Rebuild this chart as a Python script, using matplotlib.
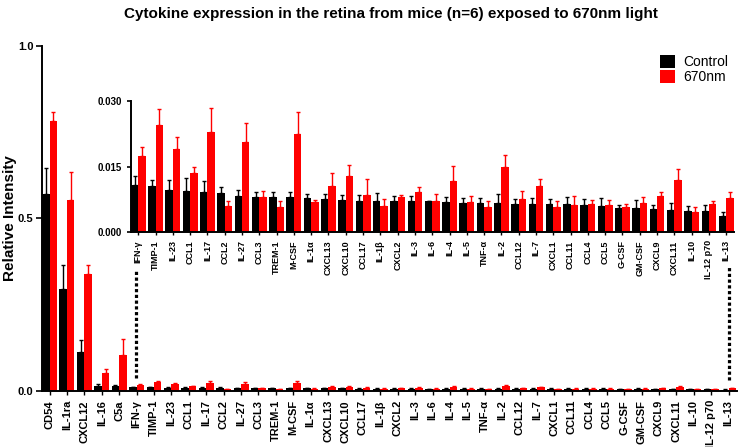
import numpy as np
import matplotlib
matplotlib.use("Agg")
import matplotlib.pyplot as plt

plt.rcParams["font.family"] = ["Liberation Sans", "DejaVu Sans"]

# big cytokines (main axis only)
big_labels = ["CD54", "IL-1ra", "CXCL12", "IL-16", "C5a"]
big_ctrl = [0.570, 0.295, 0.112, 0.015, 0.014]
big_ctrl_err = [0.075, 0.069, 0.036, 0.004, 0.002]
big_670 = [0.782, 0.552, 0.340, 0.051, 0.103]
big_670_err = [0.027, 0.082, 0.025, 0.013, 0.047]

# small cytokines (shown in inset too), values x1e-3
small_labels = ["IFN-γ", "TIMP-1", "IL-23", "CCL1", "IL-17", "CCL2", "IL-27", "CCL3",
                "TREM-1", "M-CSF", "IL-1α", "CXCL13", "CXCL10", "CCL17", "IL-1β",
                "CXCL2", "IL-3", "IL-6", "IL-4", "IL-5", "TNF-α", "IL-2", "CCL12",
                "IL-7", "CXCL1", "CCL11", "CCL4", "CCL5", "G-CSF", "GM-CSF", "CXCL9",
                "CXCL11", "IL-10", "IL-12 p70", "IL-13"]
small_ctrl = [10.7, 10.6, 9.7, 9.4, 9.1, 9.0, 8.3, 8.1, 8.0, 8.0, 7.7, 7.6, 7.3, 7.1, 7.1,
              7.0, 7.0, 7.1, 6.9, 6.7, 6.7, 6.6, 6.4, 6.4, 6.4, 6.3, 6.2, 6.0, 5.6, 5.4,
              5.2, 5.1, 4.9, 4.8, 3.6]
small_ctrl_err = [2.1, 1.2, 2.3, 3.0, 2.6, 1.3, 1.3, 1.1, 1.1, 1.1, 1.0, 1.1, 1.2, 1.3, 1.8,
                  1.2, 1.2, 0.1, 1.1, 1.1, 1.0, 2.2, 1.1, 1.3, 1.2, 1.8, 1.3, 1.8, 0.5, 2.0,
                  1.0, 1.5, 1.1, 1.4, 0.9]
small_670 = [17.5, 24.6, 19.1, 13.5, 23.0, 6.0, 20.6, 8.1, 5.7, 22.4, 6.9, 10.5, 12.9, 8.5,
             6.0, 8.1, 9.2, 7.0, 11.7, 6.8, 5.7, 14.8, 7.5, 10.5, 5.7, 6.2, 6.4, 6.2, 5.7,
             6.7, 8.3, 11.9, 4.6, 6.5, 7.8]
small_670_err = [2.0, 3.5, 2.7, 1.3, 5.3, 1.1, 4.3, 1.2, 1.3, 5.1, 0.5, 3.1, 2.4, 3.7, 1.5,
                 0.4, 1.2, 1.8, 3.4, 1.5, 1.4, 2.9, 1.8, 1.7, 1.5, 2.0, 0.9, 1.2, 0.6, 1.3,
                 0.8, 2.5, 1.2, 0.7, 1.4]

s_ctrl = np.array(small_ctrl) / 1000
s_ctrl_err = np.array(small_ctrl_err) / 1000
s_670 = np.array(small_670) / 1000
s_670_err = np.array(small_670_err) / 1000

labels = big_labels + small_labels
ctrl = np.concatenate([big_ctrl, s_ctrl])
ctrl_err = np.concatenate([big_ctrl_err, s_ctrl_err])
red = np.concatenate([big_670, s_670])
red_err = np.concatenate([big_670_err, s_670_err])

RED = "#FF0000"
W = 0.43


def draw_bars(ax, x, c, ce, r, re, capsize, elw):
    ax.bar(x - W / 2, c, W, color="black", zorder=2, label="Control")
    ax.bar(x + W / 2, r, W, color=RED, zorder=2, label="670nm")
    ax.errorbar(x - W / 2, c, yerr=[np.zeros_like(ce), ce], fmt="none",
                ecolor="black", elinewidth=elw, capsize=capsize, capthick=elw, zorder=1)
    ax.errorbar(x + W / 2, r, yerr=[np.zeros_like(re), re], fmt="none",
                ecolor=RED, elinewidth=elw, capsize=capsize, capthick=elw, zorder=1)


fig = plt.figure(figsize=(7.38, 4.47), dpi=100)

# ── main axis ─────────────────────────────────────────────
ax = fig.add_axes([0.0565, 0.1253, 0.9425, 0.7727])
x = np.arange(len(labels))
draw_bars(ax, x, ctrl, ctrl_err, red, red_err, capsize=1.5, elw=1.0)
ax.set_xlim(-0.45, len(labels) - 0.5)
ax.set_ylim(0, 1.0)
ax.set_yticks([0.0, 0.5, 1.0])
ax.set_yticklabels(["0.0", "0.5", "1.0"], fontsize=8, fontweight="bold")
ax.set_xticks(x)
ax.set_xticklabels(labels, rotation=90, fontsize=8, fontweight="bold")
ax.tick_params(axis="x", length=3, width=1)
ax.tick_params(axis="y", length=4, width=1.2, pad=2)
ax.spines["top"].set_visible(False)
ax.spines["right"].set_visible(False)
ax.spines["left"].set_linewidth(1.4)
ax.spines["bottom"].set_linewidth(1.4)
ax.set_ylabel("Relative Intensity", fontsize=11, fontweight="bold")
ax.yaxis.set_label_coords(-0.035, 0.5)

# dotted connector lines
i0 = len(big_labels)
i1 = len(labels) - 1
ax.plot([i0 - 0.05, i0 - 0.05], [0.038, 0.35], color="black", lw=2.3,
        linestyle=(0, (1, 0.8)))
ax.plot([i1 + 0.05, i1 + 0.05], [0.032, 0.364], color="black", lw=2.3,
        linestyle=(0, (1, 0.8)))

ax.legend(loc="upper right", bbox_to_anchor=(1.005, 1.01), frameon=False, fontsize=10,
          handlelength=1.1, handleheight=1.1, handletextpad=0.6, labelspacing=0.05)

fig.suptitle("Cytokine expression in the retina from mice (n=6) exposed to 670nm light",
             x=0.53, y=0.985, fontsize=11, fontweight="bold")

# ── inset ─────────────────────────────────────────────────
ins = fig.add_axes([0.1775, 0.481, 0.8171, 0.293])
xs = np.arange(len(small_labels))
draw_bars(ins, xs, s_ctrl, s_ctrl_err, s_670, s_670_err, capsize=1.5, elw=1.0)
ins.set_xlim(-0.42, len(small_labels) - 0.55)
ins.set_ylim(0, 0.030)
ins.set_yticks([0.0, 0.015, 0.030])
ins.set_yticklabels(["0.000", "0.015", "0.030"], fontsize=7, fontweight="bold")
ins.set_xticks(xs)
ins.set_xticklabels(small_labels, rotation=90, fontsize=6.5, fontweight="bold")
ins.tick_params(axis="x", length=2.5, width=1)
ins.tick_params(axis="y", length=3, width=1.2)
ins.spines["top"].set_visible(False)
ins.spines["right"].set_visible(False)
ins.spines["left"].set_linewidth(1.4)
ins.spines["bottom"].set_linewidth(1.4)
ins.patch.set_alpha(0)

fig.savefig("out.png", dpi=100)
